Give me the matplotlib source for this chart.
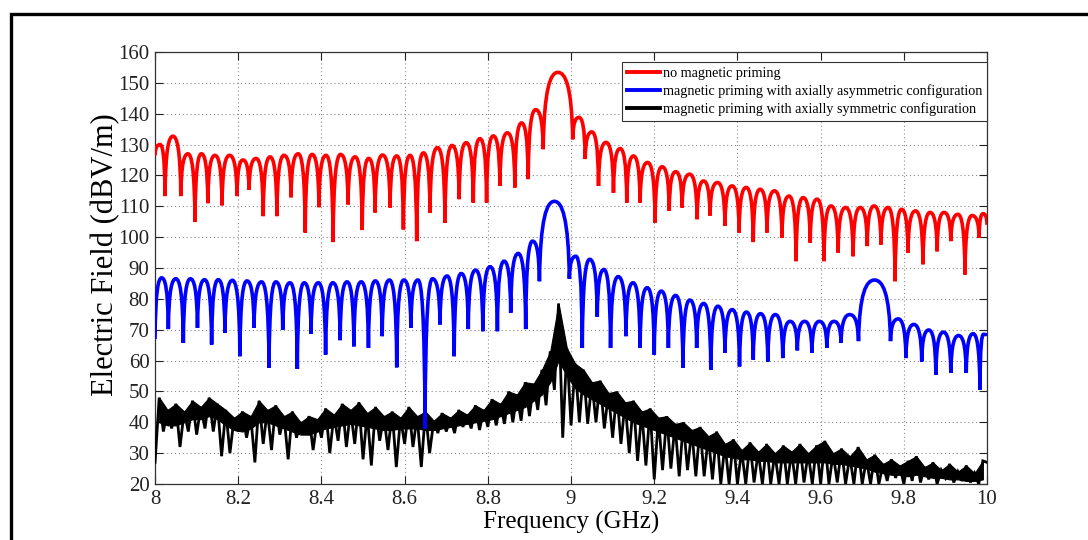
import numpy as np
import matplotlib
matplotlib.use("Agg")
import matplotlib.pyplot as plt
from matplotlib.path import Path
from matplotlib.patches import PathPatch, Rectangle
from matplotlib.lines import Line2D

# ---------------- data ----------------
x_ticks = [8.0, 8.2, 8.4, 8.6, 8.8, 9.0, 9.2, 9.4, 9.6, 9.8, 10.0]
x_tick_labels = ["8", "8.2", "8.4", "8.6", "8.8", "9", "9.2", "9.4", "9.6", "9.8", "10"]
y_ticks = [20, 30, 40, 50, 60, 70, 80, 90, 100, 110, 120, 130, 140, 150, 160]

series_labels = [
    "no magnetic priming",
    "magnetic priming with axially asymmetric configuration",
    "magnetic priming with axially symmetric configuration",
]

# No magnetic priming: interference nulls (GHz, dB) and the lobe maxima between them
red_null_ghz = [8.000, 8.024, 8.062, 8.096, 8.127, 8.161, 8.197, 8.226, 8.260, 8.293,
                8.327, 8.361, 8.394, 8.428, 8.464, 8.498, 8.529, 8.565, 8.597, 8.629,
                8.661, 8.697, 8.731, 8.765, 8.797, 8.829, 8.865, 8.897, 8.933, 9.004,
                9.034, 9.066, 9.102, 9.134, 9.166, 9.202, 9.236, 9.267, 9.303, 9.334,
                9.370, 9.404, 9.438, 9.471, 9.507, 9.541, 9.575, 9.608, 9.642, 9.678,
                9.712, 9.745, 9.779, 9.810, 9.846, 9.880, 9.913, 9.947, 9.981, 10.000]
red_null_db = [126.5, 113.3, 113.3, 104.9, 111.0, 110.3, 113.3, 115.3, 106.8, 106.8,
               112.9, 101.5, 109.7, 98.4, 110.6, 102.3, 108.0, 109.6, 102.5, 98.7,
               107.9, 104.7, 112.3, 111.2, 111.2, 116.6, 116.1, 118.8, 128.5, 131.7,
               125.3, 116.6, 114.4, 111.2, 111.2, 104.7, 108.5, 109.6, 105.8, 107.0,
               103.6, 101.5, 98.4, 101.5, 99.8, 92.2, 98.2, 92.2, 95.0, 93.8,
               97.1, 97.6, 85.7, 95.0, 91.2, 95.4, 98.7, 87.9, 99.8, 104.0]
red_peak_db = [130.0, 132.7, 127.0, 127.0, 126.5, 126.5, 125.0, 125.5, 126.0, 126.5,
               127.0, 126.8, 126.5, 126.8, 126.0, 125.5, 126.6, 126.3, 126.5, 127.3,
               129.0, 129.7, 130.6, 131.9, 132.8, 133.8, 137.0, 141.3, 153.4, 138.8,
               134.1, 130.7, 128.7, 126.3, 124.2, 122.8, 121.2, 120.4, 118.2, 117.7,
               116.6, 116.1, 115.5, 115.0, 113.3, 112.8, 112.3, 110.1, 109.6, 109.6,
               110.1, 109.6, 109.0, 108.5, 108.0, 108.0, 107.4, 107.0, 107.6]

# Axially asymmetric priming
blue_null_ghz = [8.000, 8.032, 8.068, 8.102, 8.136, 8.168, 8.204, 8.238, 8.274, 8.307,
                 8.342, 8.375, 8.410, 8.445, 8.478, 8.513, 8.546, 8.581, 8.615, 8.649,
                 8.685, 8.719, 8.753, 8.788, 8.823, 8.855, 8.891, 8.924, 8.996, 9.027,
                 9.063, 9.095, 9.132, 9.166, 9.200, 9.234, 9.269, 9.302, 9.336, 9.370,
                 9.405, 9.438, 9.473, 9.509, 9.544, 9.579, 9.615, 9.649, 9.691, 9.768,
                 9.805, 9.843, 9.877, 9.913, 9.950, 9.983, 10.000]
blue_null_db = [67.0, 70.2, 65.7, 70.6, 65.2, 69.0, 61.4, 70.6, 57.6, 70.0,
                57.3, 68.7, 61.9, 66.6, 64.6, 64.1, 67.9, 57.8, 70.6, 38.0,
                71.7, 61.4, 70.2, 69.5, 69.5, 75.5, 70.2, 85.7, 86.5, 64.1,
                74.2, 64.1, 67.9, 64.1, 61.9, 64.1, 57.6, 64.1, 57.0, 62.5,
                58.1, 60.3, 59.7, 60.8, 63.3, 62.5, 64.1, 65.7, 66.3, 66.3,
                60.8, 59.7, 55.4, 56.0, 56.0, 50.6, 68.0]
blue_peak_db = [86.8, 86.5, 86.5, 86.2, 86.2, 86.0, 85.8, 85.5, 85.5, 85.2,
                85.2, 85.2, 85.2, 85.5, 85.5, 85.8, 86.1, 86.1, 86.1, 86.5,
                87.4, 88.2, 89.3, 90.4, 92.2, 94.7, 98.7, 111.6, 93.8, 92.8,
                89.5, 87.2, 85.2, 83.6, 82.5, 81.1, 79.6, 78.5, 77.6, 76.5,
                75.7, 75.2, 74.9, 72.7, 72.7, 72.7, 72.7, 74.9, 86.1, 73.5,
                71.7, 69.9, 69.2, 68.1, 68.7, 68.5]

# Axially symmetric priming: noisy trace, lower excursions every 0.02 GHz from 8.00,
# upper excursions (and the floor of the dense band) every 0.02 GHz from 8.01
sym_low_ghz = np.round(np.arange(8.00, 10.001, 0.02), 2)
sym_top_ghz = np.round(np.arange(8.01, 10.0, 0.02), 2)
sym_low_db = [27.0, 37.0, 38.0, 32.0, 37.0, 36.0, 38.0, 37.0, 29.0, 30.0,
              37.0, 35.0, 27.0, 33.0, 31.0, 36.0, 28.0, 35.0, 36.0, 31.0,
              35.0, 30.0, 34.0, 32.0, 33.0, 28.0, 26.0, 34.0, 31.0, 25.5,
              33.0, 32.0, 25.5, 30.0, 36.5, 37.0, 36.5, 38.5, 38.0, 37.5,
              38.5, 39.0, 39.5, 40.0, 40.5, 42.0, 44.0, 45.5, 50.5, 35.0,
              39.0, 40.0, 39.5, 40.0, 38.0, 35.0, 33.0, 30.0, 27.5, 26.0,
              21.5, 24.5, 25.0, 22.5, 24.5, 22.5, 22.5, 21.5, 20.0, 20.0,
              20.0, 20.0, 20.5, 20.0, 20.0, 20.0, 20.0, 20.0, 20.5, 20.0,
              20.0, 20.0, 20.5, 20.0, 20.0, 20.0, 20.0, 20.0, 21.0, 22.0,
              20.0, 21.0, 20.5, 21.5, 20.0, 22.0, 20.5, 21.0, 20.5, 20.0,
              27.0]
sym_top_db = [48.0, 44.0, 46.0, 43.5, 47.0, 45.0, 48.0, 46.0, 44.0, 41.5,
              43.5, 42.0, 47.0, 44.0, 45.5, 42.0, 43.5, 40.0, 42.0, 41.0,
              44.5, 42.5, 46.0, 44.0, 46.5, 43.0, 45.0, 42.0, 43.5, 41.5,
              45.0, 42.0, 43.5, 40.5, 43.0, 41.5, 44.0, 42.5, 45.5, 44.0,
              47.5, 46.0, 50.0, 49.0, 53.0, 52.5, 57.0, 63.0, 78.5, 64.0,
              59.0, 57.0, 53.0, 53.5, 49.5, 50.0, 46.5, 47.0, 43.5, 44.5,
              41.5, 42.0, 39.5, 40.0, 37.5, 38.5, 35.5, 37.0, 33.0, 34.5,
              31.0, 33.5, 30.5, 33.0, 30.0, 32.5, 30.5, 33.0, 30.0, 32.5,
              34.0, 30.0, 31.5, 29.0, 32.0, 28.0, 29.5, 26.5, 28.0, 26.0,
              27.5, 29.0, 25.5, 27.0, 24.5, 26.5, 24.0, 26.0, 23.5, 27.5]
sym_floor_db = [40.0, 39.0, 39.0, 40.0, 41.0, 41.0, 42.0, 41.0, 39.0, 37.5,
                37.0, 38.0, 40.0, 40.0, 39.0, 38.0, 37.0, 36.0, 36.0, 37.0,
                38.0, 38.5, 39.0, 39.5, 39.0, 38.5, 38.0, 37.5, 37.5, 38.0,
                38.0, 38.0, 37.5, 37.5, 38.0, 38.5, 39.0, 39.5, 40.0, 40.5,
                41.0, 42.0, 43.0, 44.0, 45.0, 47.0, 49.0, 53.0, 60.0, 55.0,
                51.0, 49.0, 47.5, 46.0, 44.5, 43.0, 41.5, 40.0, 39.0, 38.0,
                37.0, 36.0, 35.0, 34.0, 33.0, 32.0, 31.0, 30.0, 29.0, 28.5,
                28.0, 28.0, 27.5, 27.5, 27.0, 27.0, 27.0, 27.0, 27.0, 27.0,
                27.0, 26.5, 26.5, 26.0, 25.5, 25.0, 24.0, 23.5, 23.0, 23.0,
                22.5, 23.0, 22.5, 22.0, 22.0, 21.5, 21.5, 21.0, 21.0, 21.5]

# ---------------- style ----------------
SERIF = ["Liberation Serif", "DejaVu Serif"]
plt.rcParams["font.family"] = SERIF
RED, BLUE, BLACK = "#ff0000", "#0000ff", "#000000"


def lobe_path(null_f, null_v, peak_v):
    """Rounded lobes between successive nulls as cubic Bezier segments."""
    verts = [(null_f[0], null_v[0])]
    codes = [Path.MOVETO]
    for i, p in enumerate(peak_v):
        fa, va = null_f[i], null_v[i]
        fb, vb = null_f[i + 1], null_v[i + 1]
        fm = 0.5 * (fa + fb)
        h = fm - fa
        verts += [(fa + 0.06 * h, va + 0.8 * (p - va)), (fm - 0.5 * h, p), (fm, p),
                  (fm + 0.5 * h, p), (fb - 0.06 * h, vb + 0.8 * (p - vb)), (fb, vb)]
        codes += [Path.CURVE4] * 6
    return Path(verts, codes)


fig = plt.figure(figsize=(10.88, 5.40), dpi=100)
fig.patch.set_facecolor("white")
ax = fig.add_axes([0.1425, 0.1037, 0.7647, 0.8])

LW = 2.6

# symmetric trace: dense band plus alternating lower/upper excursions
ax.fill_between(sym_top_ghz, sym_floor_db, sym_top_db, color=BLACK, lw=0.8, zorder=3)
xs = np.empty(len(sym_low_ghz) + len(sym_top_ghz))
ys = np.empty_like(xs)
xs[0::2] = sym_low_ghz
xs[1::2] = sym_top_ghz
ys[0::2] = sym_low_db
ys[1::2] = sym_top_db
ax.plot(xs, ys, color=BLACK, lw=2.0, solid_joinstyle="miter", zorder=3)

ax.add_patch(PathPatch(lobe_path(blue_null_ghz, blue_null_db, blue_peak_db),
                       facecolor="none", edgecolor=BLUE, lw=LW, zorder=4))
ax.add_patch(PathPatch(lobe_path(red_null_ghz, red_null_db, red_peak_db),
                       facecolor="none", edgecolor=RED, lw=LW, zorder=5))

ax.set_xlim(8, 10)
ax.set_ylim(20, 160)
ax.set_xticks(x_ticks)
ax.set_xticklabels(x_tick_labels)
ax.set_yticks(y_ticks)

ax.grid(True, color="#8a8a8a", linestyle=(0, (1, 2.5)), linewidth=0.8)
ax.set_axisbelow(True)
ax.tick_params(direction="in", top=True, right=True, length=6, width=0.8,
               labelsize=15, colors="#222222", pad=4)
for s in ax.spines.values():
    s.set_color("#333333")
    s.set_linewidth(0.9)

ax.set_xlabel("Frequency (GHz)", fontsize=18, labelpad=2)
ax.set_ylabel("Electric Field (dBV/m)", fontsize=22)
ax.yaxis.set_label_coords(-0.042, 0.53)

handles = [Line2D([], [], color=c, lw=2.8) for c in (RED, BLUE, BLACK)]
leg = ax.legend(handles, series_labels, loc="upper right", bbox_to_anchor=(1.0, 0.977),
                borderaxespad=0.0, fontsize=10.2, fancybox=False, framealpha=1,
                edgecolor="#333333", handlelength=2.3, handletextpad=0.2,
                labelspacing=0.3, borderpad=0.35)
leg.get_frame().set_linewidth(0.8)
leg.set_zorder(10)

# outer frame around the figure
fig.add_artist(Rectangle((0.0105, -0.2), 1.5, 0.2 + 0.9745, transform=fig.transFigure,
                         fill=False, edgecolor="black", linewidth=2.4, clip_on=False))

fig.savefig("out.png", dpi=100)
